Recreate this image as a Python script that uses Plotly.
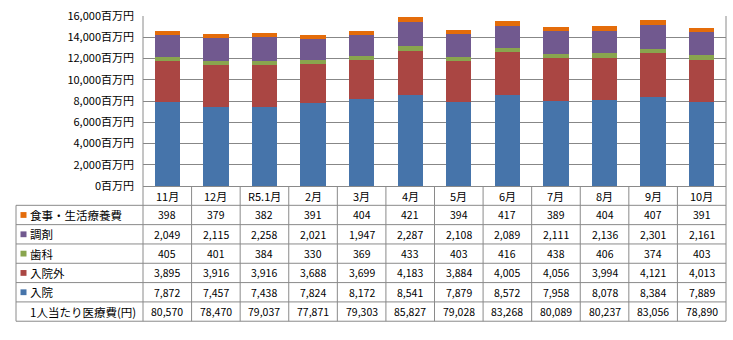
import plotly.graph_objects as go

months = ["11月", "12月", "R5.1月", "2月", "3月", "4月", "5月", "6月", "7月", "8月", "9月", "10月"]
nyuin = [7872, 7457, 7438, 7824, 8172, 8541, 7879, 8572, 7958, 8078, 8384, 7889]
nyuingai = [3895, 3916, 3916, 3688, 3699, 4183, 3884, 4005, 4056, 3994, 4121, 4013]
shika = [405, 401, 384, 330, 369, 433, 403, 416, 438, 406, 374, 403]
chozai = [2049, 2115, 2258, 2021, 1947, 2287, 2108, 2089, 2111, 2136, 2301, 2161]
shokuji = [398, 379, 382, 391, 404, 421, 394, 417, 389, 404, 407, 391]
per_capita = [80570, 78470, 79037, 77871, 79303, 85827, 79028, 83268, 80089, 80237, 83056, 78890]

series_names = ["入院", "入院外", "歯科", "調剤", "食事・生活療養費"]
series_vals = [nyuin, nyuingai, shika, chozai, shokuji]
colors = ["#4674AA", "#AA4643", "#89A54E", "#71598F", "#E46C0A"]

W, H = 733, 340
ML, MR, MT, MB = 143, 7, 10, 154
PW = W - ML - MR
PH = H - MT - MB

def px(x):
    return (x - ML) / PW

def py(y):
    return (MT + PH - y) / PH

CJK = "Noto Sans CJK JP"
LINE = "#8a8a8a"

fig = go.Figure()
for name, vals, col in zip(series_names, series_vals, colors):
    fig.add_trace(go.Bar(x=months, y=vals, name=name, marker=dict(color=col, line=dict(width=0)),
                         width=0.52, showlegend=False))

shapes = []
annotations = []
n = len(months)
row_top = MT + PH  # 186
rh = 20
table_left = 16
# horizontal lines of table
for i in range(1, 8):
    y = row_top + rh * i
    shapes.append(dict(type="line", xref="paper", yref="paper", x0=px(table_left), x1=1,
                       y0=py(y), y1=py(y), line=dict(color=LINE, width=1)))
# vertical lines
shapes.append(dict(type="line", xref="paper", yref="paper", x0=px(table_left), x1=px(table_left),
                   y0=py(row_top + rh), y1=py(row_top + rh * 7), line=dict(color=LINE, width=1)))
for k in range(0, n + 1):
    x = k / n
    y0 = py(MT) if k in (0, n) else py(row_top)
    shapes.append(dict(type="line", xref="paper", yref="paper", x0=x, x1=x,
                       y0=y0, y1=py(row_top + rh * 7), line=dict(color=LINE, width=1)))

# header row month labels
for m in months:
    annotations.append(dict(x=m, y=py(row_top + rh / 2), xref="x", yref="paper", text=m,
                            showarrow=False, font=dict(family=CJK, size=11, color="#000"),
                            xanchor="center", yanchor="middle"))

rows = [("食事・生活療養費", shokuji, colors[4]), ("調剤", chozai, colors[3]), ("歯科", shika, colors[2]),
        ("入院外", nyuingai, colors[1]), ("入院", nyuin, colors[0]), ("1人当たり医療費(円)", per_capita, None)]
for i, (label, vals, col) in enumerate(rows):
    yc = row_top + rh * (i + 1) + rh / 2
    if col:
        shapes.append(dict(type="rect", xref="paper", yref="paper", x0=px(20.5), x1=px(26.5),
                           y0=py(yc - 3), y1=py(yc + 3), fillcolor=col, line=dict(width=0)))
        lx = 28
    else:
        lx = 28
    annotations.append(dict(x=px(lx), y=py(yc), xref="paper", yref="paper", text=label,
                            showarrow=False, font=dict(family=CJK, size=11.5, color="#000"),
                            xanchor="left", yanchor="middle"))
    for m, v in zip(months, vals):
        annotations.append(dict(x=m, y=py(yc), xref="x", yref="paper", text=f"{v:,}",
                                showarrow=False, font=dict(family=CJK, size=10.5, color="#000"),
                                xanchor="center", yanchor="middle"))

fig.update_layout(
    width=W, height=H, margin=dict(l=ML, r=MR, t=MT, b=MB),
    barmode="stack", bargap=0.48,
    plot_bgcolor="white", paper_bgcolor="white",
    shapes=shapes, annotations=annotations,
    font=dict(family=CJK, size=11, color="#000"),
    xaxis=dict(range=[-0.5, n - 0.5], showticklabels=False, showgrid=False, ticks="",
               showline=True, linecolor=LINE, linewidth=1, zeroline=False, fixedrange=True),
    yaxis=dict(range=[0, 16000], dtick=2000, tickformat=",d", ticksuffix="百万円",
               showgrid=True, gridcolor="#878787", gridwidth=1.3, zeroline=False,
               showline=False, ticks="", ticklabelstandoff=8,
               tickfont=dict(family=CJK, size=11, color="#000"), fixedrange=True),
)

fig.write_html("out.html")
